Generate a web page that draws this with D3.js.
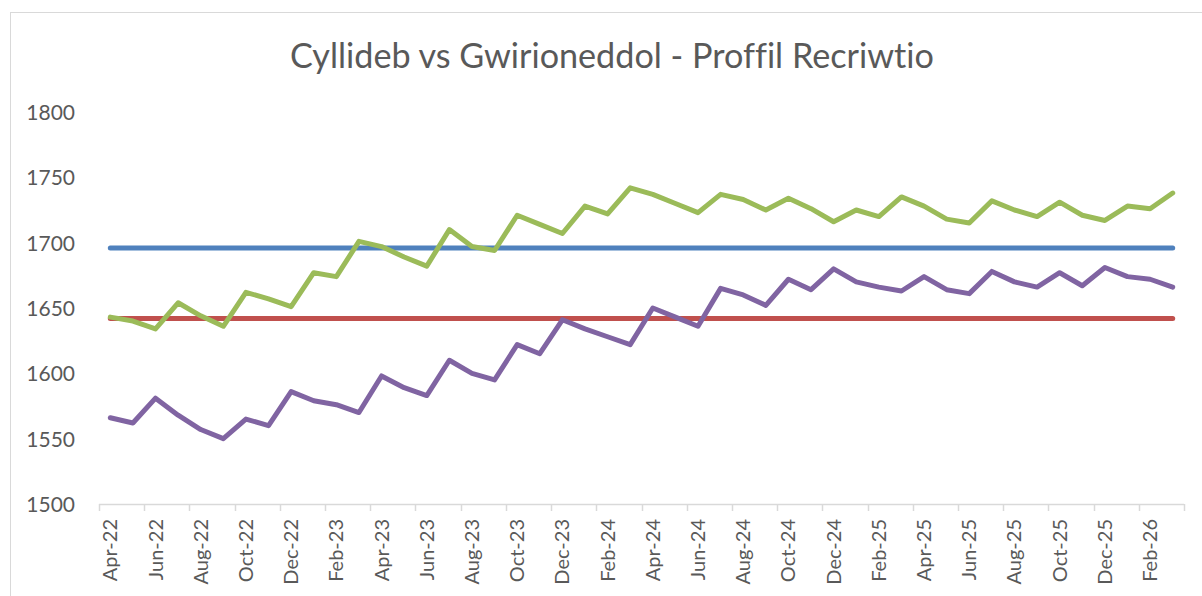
<!DOCTYPE html>
<html><head><meta charset="utf-8">
<script src="https://cdn.jsdelivr.net/npm/d3@7"></script>
<style>html,body{margin:0;padding:0;background:#fff;overflow:hidden} text{font-variant-ligatures:none;font-feature-settings:"liga" 0}</style>
</head><body>
<svg id="chart" width="1202" height="596"></svg>
<script>
const titleText = "Cyllideb vs Gwirioneddol - Proffil Recriwtio";
const monthNames = ["Jan","Feb","Mar","Apr","May","Jun","Jul","Aug","Sep","Oct","Nov","Dec"];
const categories = [];
for (let i = 0; i < 48; i++) {
  const m = (3 + i) % 12, yr = 22 + Math.floor((3 + i) / 12);
  categories.push(monthNames[m] + "-" + yr);
}
const yTicks = [1500, 1550, 1600, 1650, 1700, 1750, 1800];
const budgetBlue = 1696;
const budgetRed = 1642;
const actualGreen = [1643,1640,1634,1654,1644,1636,1662,1657,1651,1677,1674,1701,
                     1697,1689,1682,1710,1697,1694,1721,1714,1707,1728,1722,1742,
                     1737,1730,1723,1737,1733,1725,1734,1726,1716,1725,1720,1735,
                     1728,1718,1715,1732,1725,1720,1731,1721,1717,1728,1726,1738];
const actualPurple = [1566,1562,1581,1568,1557,1550,1565,1560,1586,1579,1576,1570,
                      1598,1589,1583,1610,1600,1595,1622,1615,1641,1634,1628,1622,
                      1650,1643,1636,1665,1660,1652,1672,1664,1680,1670,1666,1663,
                      1674,1664,1661,1678,1670,1666,1677,1667,1681,1674,1672,1666];

const svg = d3.select("#chart");
const FONT = "Lato, 'Open Sans', sans-serif";
const TXT = "#595959";

// chart border
svg.append("rect").attr("x",10.5).attr("y",12.5).attr("width",1300).attr("height",700)
  .attr("fill","none").attr("stroke","#D9D9D9").attr("stroke-width",1);

const pLeft = 99, pRight = 1184, pTop = 112, pBottom = 504;
const x = d3.scaleBand().domain(categories).range([pLeft, pRight]).paddingInner(0).paddingOuter(0);
const y = d3.scaleLinear().domain([1500, 1800]).range([pBottom, pTop]);

// title
const t = svg.append("text").attr("x", 612).attr("y", 68).attr("text-anchor","middle")
  .attr("font-family", FONT).attr("font-size", 30).attr("fill", TXT).text(titleText);
const tl = t.node().getComputedTextLength();
t.attr("font-size", 30 * 644 / tl);

// y axis labels (no line)
const yAxis = d3.axisLeft(y).tickValues(yTicks).tickSize(0).tickPadding(0).tickFormat(d3.format("d"));
const gy = svg.append("g").attr("transform", `translate(75,0)`).call(yAxis);
gy.select(".domain").remove();
gy.selectAll("text").attr("font-family", FONT).attr("font-size", 21).attr("fill", TXT).attr("dy","0.35em");

// x axis
const evenCats = categories.filter((d,i)=> i % 2 === 0);
const gx = svg.append("g").attr("transform", `translate(0,${pBottom})`);
gx.append("line").attr("x1", pLeft).attr("x2", pRight).attr("y1", 0.5).attr("y2", 0.5)
  .attr("stroke", "#D9D9D9").attr("stroke-width", 1.5);
const tickPos = evenCats.map(d => x(d)).concat([pRight]);
gx.selectAll("line.tick").data(tickPos).enter().append("line").attr("class","tick")
  .attr("x1", d=>Math.round(d)+0.5).attr("x2", d=>Math.round(d)+0.5).attr("y1",0).attr("y2",7)
  .attr("stroke","#D9D9D9").attr("stroke-width",1.5);
gx.selectAll("text").data(evenCats).enter().append("text")
  .attr("transform", d => `translate(${x(d) + x.bandwidth()/2},15) rotate(-90)`)
  .attr("text-anchor","end").attr("dy","0.35em")
  .attr("font-family", FONT).attr("font-size", 20).attr("fill", TXT).text(d=>d);

// lines
const cx = (d,i) => x(categories[i]) + x.bandwidth()/2;
const line = d3.line().x((d,i)=>cx(d,i)).y(d=>y(d));
const series = [
  {vals: categories.map(()=>budgetBlue), color:"#4F81BD"},
  {vals: categories.map(()=>budgetRed), color:"#C0504D"},
  {vals: actualGreen, color:"#9BBB59"},
  {vals: actualPurple, color:"#8064A2"}
];
svg.append("g").selectAll("path").data(series).enter().append("path")
  .attr("d", d=>line(d.vals)).attr("fill","none").attr("stroke", d=>d.color)
  .attr("stroke-width", 5).attr("stroke-linejoin","round").attr("stroke-linecap","round");
</script>
</body></html>
